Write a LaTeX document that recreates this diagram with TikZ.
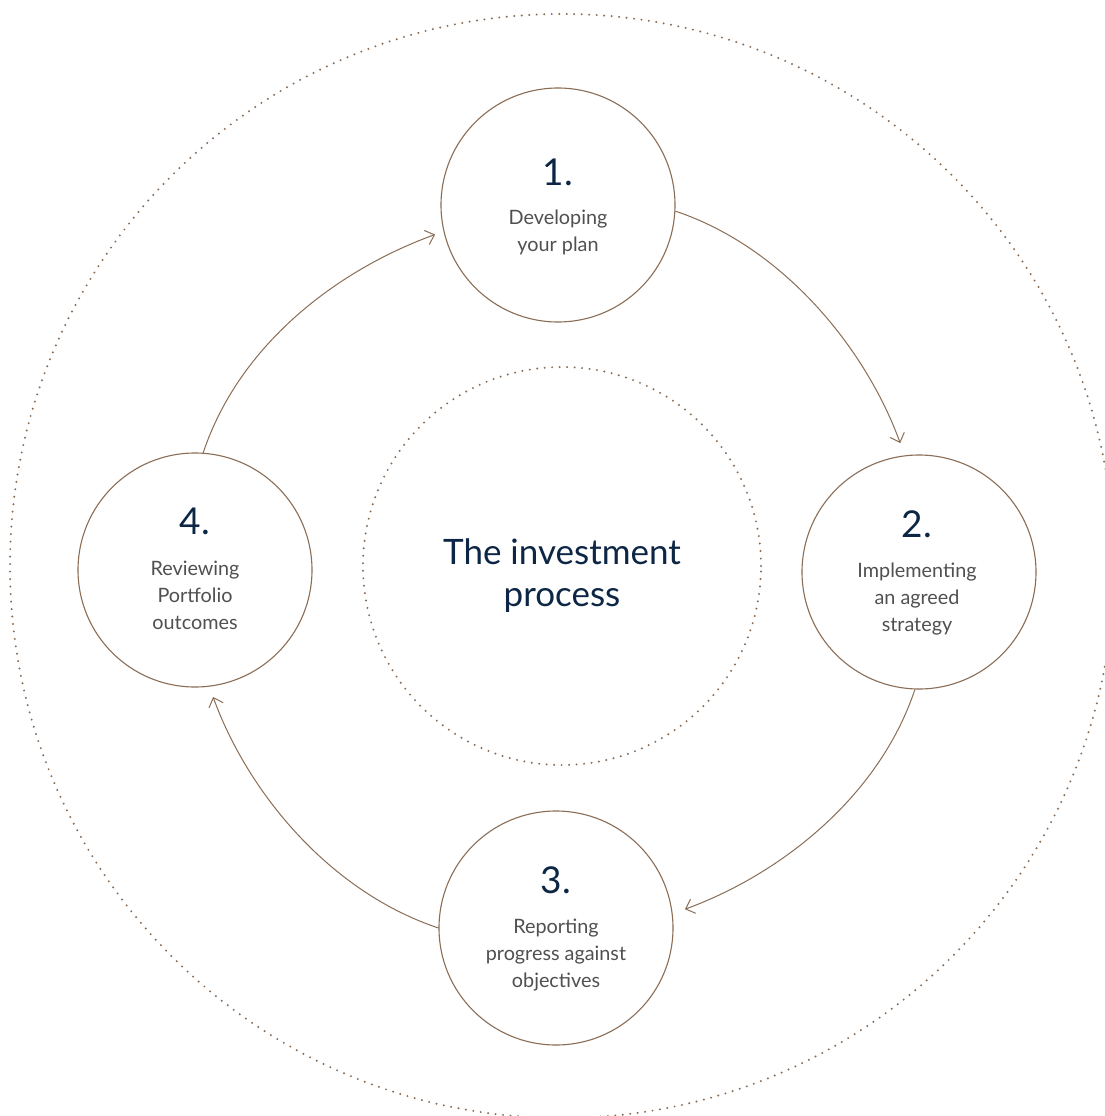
\documentclass[tikz,border=0pt]{standalone}
\usepackage{fontspec}
\setmainfont{Lato}
\usetikzlibrary{arrows.meta}
\definecolor{brownc}{HTML}{8A6D55}
\definecolor{navy}{HTML}{0D2645}
\definecolor{greyt}{HTML}{505050}
\tikzset{
  stage/.style={circle, draw=brownc, line width=1.1pt, minimum size=234pt, inner sep=0pt},
  dots/.style={draw=brownc, line width=2.2pt, line cap=round, dash pattern=on 0pt off 7.5pt},
  flow/.style={draw=brownc, line width=1pt, -{Straight Barb[length=8pt,width=15pt]}},
  numtxt/.style={anchor=base, text=navy, font=\fontsize{37}{40}\selectfont, inner sep=0pt},
  labtxt/.style={anchor=base, text=greyt, font=\fontsize{19.8}{27}\selectfont, align=center, inner sep=0pt},
  titletxt/.style={anchor=base, text=navy, font=\fontsize{35}{42}\selectfont, align=center, inner sep=0pt}
}
\begin{document}
\begin{tikzpicture}[x=1pt,y=-1pt]
\useasboundingbox (0,0) rectangle (1105,1116);
\clip (0,0) rectangle (1105,1116);
\fill[white] (0,0) rectangle (1105,1116);
% dotted circles
\node[circle, dots, minimum size=1104pt, inner sep=0pt] (outer) at (562,566) {};
\node[circle, dots, minimum size=398pt, inner sep=0pt] (inner) at (562,566) {};
% stage circles
\node[stage] (n1) at (558,205) {};
\node[stage] (n2) at (919,572) {};
\node[stage] (n3) at (556,928) {};
\node[stage] (n4) at (195,570) {};
% texts
\node[titletxt] (title) at (562,606) {The investment\\process};
\node[numtxt] (t1) at (558,185) {1.};
\node[labtxt] (l1) at (558,251) {Developing\\your plan};
\node[numtxt] (t2) at (917,537) {2.};
\node[labtxt] (l2) at (917,631) {Implementing\\an agreed\\strategy};
\node[numtxt] (t3) at (556,893) {3.};
\node[labtxt] (l3) at (556,987) {Reporting\\progress against\\objectives};
\node[numtxt] (t4) at (195,534) {4.};
\node[labtxt] (l4) at (195,629) {Reviewing\\Portfolio\\outcomes};
% connectors
\draw[flow, shorten >=13pt] (n1.-3) .. controls +(108,36) and +(-39,-107) .. (n2.97);
\draw[flow, shorten >=13pt] (n2.-92) .. controls +(-36,108) and +(107,-39) .. (n3.7);
\draw[flow, shorten >=11pt] (n3.180) .. controls +(-108,-36) and +(39,107) .. (n4.-83);
\draw[flow, shorten >=9pt] (n4.86) .. controls +(36,-108) and +(-107,39) .. (n1.193);
\end{tikzpicture}
\end{document}
